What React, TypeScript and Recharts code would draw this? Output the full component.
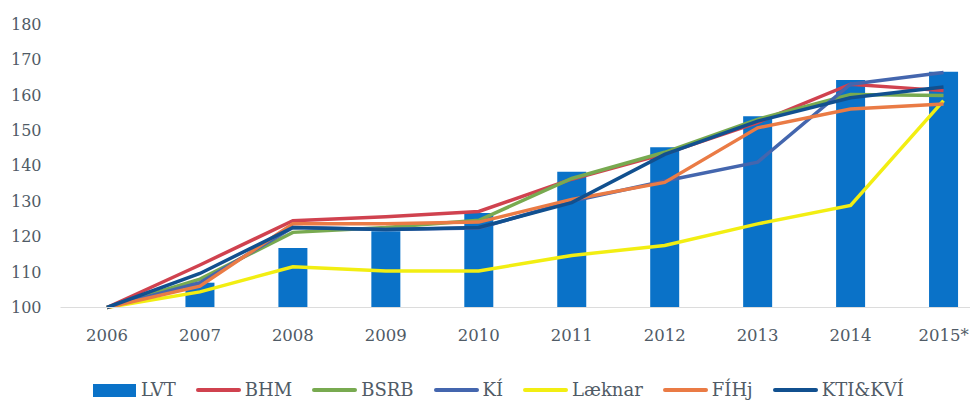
import { ComposedChart, Bar, Line, XAxis, YAxis } from "recharts";

const years = ["2006", "2007", "2008", "2009", "2010", "2011", "2012", "2013", "2014", "2015*"];
const lvt = [100, 107, 116.8, 121.5, 126.7, 138.3, 145.2, 154, 164.2, 166.5];
const bhm = [100, 112, 124.5, 125.6, 127.1, 136.2, 143.4, 152.2, 163, 161.2];
const bsrb = [100, 108, 121.2, 122.6, 124.6, 136.4, 143.8, 153.1, 160.1, 159.8];
const ki = [100, 107, 122.6, 122, 122.4, 130, 135.7, 141, 163, 166.3];
const laeknar = [100, 104.4, 111.5, 110.3, 110.3, 114.7, 117.5, 123.6, 128.8, 158.4];
const fihj = [100, 106, 123.6, 123.6, 124.1, 130.5, 135.3, 150.7, 156, 157.4];
const kti = [100, 109.6, 122.6, 122, 122.6, 129.6, 143.2, 152.6, 159.2, 162.2];
const yTicks = [100, 110, 120, 130, 140, 150, 160, 170, 180];

const data = years.map((year, i) => ({
  year,
  LVT: lvt[i],
  BHM: bhm[i],
  BSRB: bsrb[i],
  KI: ki[i],
  Laeknar: laeknar[i],
  FIHj: fihj[i],
  KTI: kti[i],
}));

const LINES = [
  { key: "BHM", name: "BHM", color: "#D0424F" },
  { key: "BSRB", name: "BSRB", color: "#78AA50" },
  { key: "KI", name: "KÍ", color: "#4466AE" },
  { key: "Laeknar", name: "Læknar", color: "#F2EE12" },
  { key: "FIHj", name: "FÍHj", color: "#EA7B45" },
  { key: "KTI", name: "KTI&KVÍ", color: "#11508F" },
];

const BAR_COLOR = "#0A72C8";
const FONT = "'DejaVu Serif', serif";
const TEXT = "#505b66";

export default function App() {
  return (
    <div style={{ position: "absolute", left: 0, top: 0, width: 970, height: 401, overflow: "hidden" }}>
      <ComposedChart
        width={990}
        height={401}
        data={data}
        margin={{ top: 24, right: 0, left: 0, bottom: 53.5 }}
      >
        <XAxis
          dataKey="year"
          height={40}
          tickLine={false}
          axisLine={{ stroke: "#dcdcdc" }}
          tickMargin={16}
          tick={{ fill: TEXT, fontSize: 16.5, fontFamily: FONT }}
          interval={0}
        />
        <YAxis
          width={60.5}
          domain={[100, 180]}
          ticks={yTicks}
          axisLine={false}
          tickLine={false}
          tickMargin={13}
          tick={{ fill: TEXT, fontSize: 16, fontFamily: FONT }}
        />
        <Bar dataKey="LVT" fill={BAR_COLOR} barSize={29} isAnimationActive={false} />
        {LINES.map((l) => (
          <Line
            key={l.key}
            dataKey={l.key}
            name={l.name}
            stroke={l.color}
            strokeWidth={3.5}
            dot={false}
            type="linear"
            isAnimationActive={false}
          />
        ))}
      </ComposedChart>
      <div
        style={{
          position: "absolute",
          left: 93,
          top: 380,
          height: 20,
          lineHeight: "20px",
          display: "flex",
          alignItems: "center",
          fontFamily: FONT,
          fontSize: 18,
          color: TEXT,
          whiteSpace: "nowrap",
        }}
      >
        <span style={{ display: "inline-block", width: 43, height: 13, background: BAR_COLOR, marginRight: 5 }} />
        <span style={{ marginRight: 20 }}>LVT</span>
        {LINES.map((l) => (
          <span key={l.key} style={{ display: "flex", alignItems: "center", marginRight: 20 }}>
            <span
              style={{
                display: "inline-block",
                width: 45,
                height: 4,
                borderRadius: 2,
                background: l.color,
                marginRight: 4,
              }}
            />
            <span>{l.name}</span>
          </span>
        ))}
      </div>
    </div>
  );
}
